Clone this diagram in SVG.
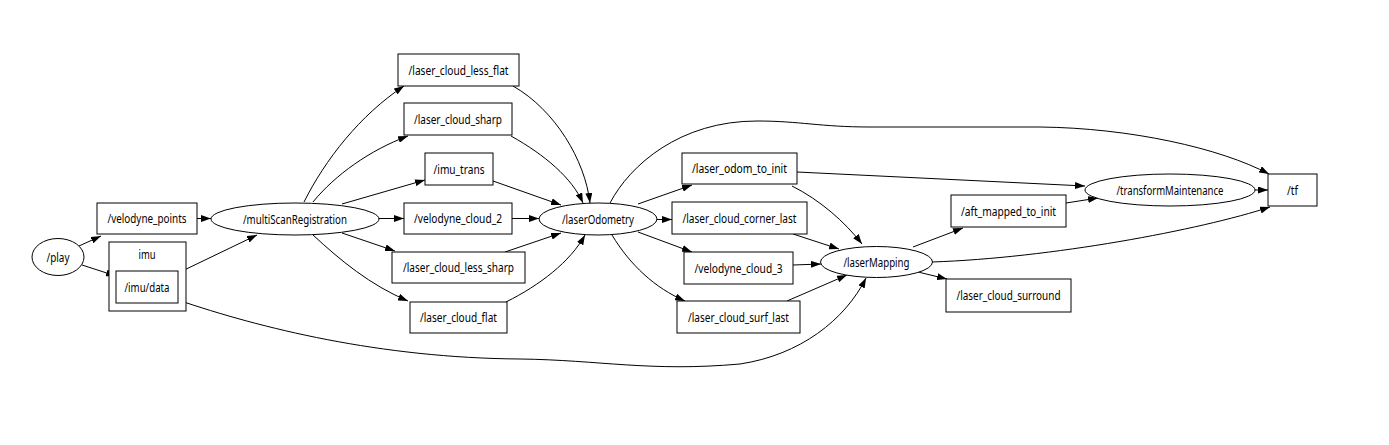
<svg xmlns="http://www.w3.org/2000/svg" width="1389" height="445" viewBox="0 0 1389 445">
<style>
  .n { fill: #ffffff; stroke: #000000; stroke-width: 1; }
  .t { font-family: "Noto Sans", "DejaVu Sans", sans-serif; font-size: 12.5px; text-anchor: middle; fill: #000000; }
  .e { fill: none; stroke: #000000; stroke-width: 1; marker-end: url(#arrow); }
</style>
<defs>
  <marker id="arrow" viewBox="0 0 10 7" refX="10" refY="3.5" markerWidth="10" markerHeight="7" markerUnits="userSpaceOnUse" orient="auto">
    <path d="M0,0 L10,3.5 L0,7 z" fill="#000000"/>
  </marker>
</defs>
<rect width="1389" height="445" fill="#ffffff"/>

<g id="connectors">
  <path class="e" d="M79,246 L101,236"/>
  <path class="e" d="M82,265 L116,276"/>
  <path class="e" d="M197,218.5 L211,218.5"/>
  <path class="e" d="M178,273 L257,235"/>
  <path class="e" d="M178,300 C 260,328 380,358 520,359 C 600,360 650,372 740,364 C 800,355 845,320 866,278"/>
  <path class="e" d="M304,202 C 325,160 360,115 404,86"/>
  <path class="e" d="M313,202 C 335,175 370,150 408,136"/>
  <path class="e" d="M342,204 L425,180"/>
  <path class="e" d="M378,218.5 L404,218.5"/>
  <path class="e" d="M342,233 L395,251"/>
  <path class="e" d="M313,235 C 340,260 370,285 408,301"/>
  <path class="e" d="M513,86 C 555,110 585,160 590,203"/>
  <path class="e" d="M511,136 C 545,155 572,178 583,203"/>
  <path class="e" d="M493,181 L561,205"/>
  <path class="e" d="M512,218.5 L539,218.5"/>
  <path class="e" d="M505,252 L561,233"/>
  <path class="e" d="M506,302 C 540,285 570,262 585,235"/>
  <path class="e" d="M610,203 C 630,165 680,121 757,121 C 800,121 820,127 870,127 L 1040,127 C 1130,128 1220,148 1269,174"/>
  <path class="e" d="M638,204 L692,185"/>
  <path class="e" d="M657,219.5 L672,219.5"/>
  <path class="e" d="M638,232 L692,252"/>
  <path class="e" d="M612,235 C 630,265 655,288 685,301"/>
  <path class="e" d="M792,186 C 820,200 845,222 862,244"/>
  <path class="e" d="M793,234 L839,249"/>
  <path class="e" d="M793,265 L821,264"/>
  <path class="e" d="M787,301 L847,275"/>
  <path class="e" d="M797,172 L1085,186"/>
  <path class="e" d="M913,247 L963,228"/>
  <path class="e" d="M918,272 L947,279"/>
  <path class="e" d="M932,262 C 1050,258 1200,230 1270,207"/>
  <path class="e" d="M1066,203 L1098,198"/>
  <path class="e" d="M1255,190 L1268,190"/>
</g>

<g id="play">
  <ellipse class="n" cx="58" cy="257" rx="26" ry="18.5"/>
  <text class="t" x="58" y="261.5" textLength="23" lengthAdjust="spacingAndGlyphs">/play</text>
</g>
<g id="velodyne_points">
  <rect class="n" x="97" y="203" width="100" height="31"/>
  <text class="t" x="147" y="223" textLength="79" lengthAdjust="spacingAndGlyphs">/velodyne_points</text>
</g>
<g id="imu">
  <rect class="n" x="109" y="242" width="77" height="69"/>
  <text class="t" x="147" y="258.5" textLength="17" lengthAdjust="spacingAndGlyphs">imu</text>
</g>
<g id="imu_data">
  <rect class="n" x="116" y="271" width="62" height="32"/>
  <text class="t" x="147" y="291.5" textLength="45" lengthAdjust="spacingAndGlyphs">/imu/data</text>
</g>
<g id="multiScanRegistration">
  <ellipse class="n" cx="295" cy="219" rx="84" ry="16"/>
  <text class="t" x="295" y="223.5" textLength="104" lengthAdjust="spacingAndGlyphs">/multiScanRegistration</text>
</g>
<g id="laser_cloud_less_flat">
  <rect class="n" x="398" y="54" width="121" height="32"/>
  <text class="t" x="458.5" y="74.5" textLength="100" lengthAdjust="spacingAndGlyphs">/laser_cloud_less_flat</text>
</g>
<g id="laser_cloud_sharp">
  <rect class="n" x="404" y="103" width="108" height="32"/>
  <text class="t" x="458" y="123.5" textLength="88" lengthAdjust="spacingAndGlyphs">/laser_cloud_sharp</text>
</g>
<g id="imu_trans">
  <rect class="n" x="425" y="153" width="68" height="32"/>
  <text class="t" x="459" y="173.5" textLength="51" lengthAdjust="spacingAndGlyphs">/imu_trans</text>
</g>
<g id="velodyne_cloud_2">
  <rect class="n" x="404" y="203" width="108" height="31"/>
  <text class="t" x="458" y="223" textLength="88" lengthAdjust="spacingAndGlyphs">/velodyne_cloud_2</text>
</g>
<g id="laser_cloud_less_sharp">
  <rect class="n" x="392" y="252" width="133" height="31"/>
  <text class="t" x="458.5" y="272" textLength="111" lengthAdjust="spacingAndGlyphs">/laser_cloud_less_sharp</text>
</g>
<g id="laser_cloud_flat">
  <rect class="n" x="410" y="302" width="97" height="31"/>
  <text class="t" x="458.5" y="322" textLength="77" lengthAdjust="spacingAndGlyphs">/laser_cloud_flat</text>
</g>
<g id="laserOdometry">
  <ellipse class="n" cx="598" cy="219" rx="59" ry="16"/>
  <text class="t" x="598" y="223.5" textLength="72" lengthAdjust="spacingAndGlyphs">/laserOdometry</text>
</g>
<g id="laser_odom_to_init">
  <rect class="n" x="682" y="153" width="115" height="31"/>
  <text class="t" x="739.5" y="173" textLength="95" lengthAdjust="spacingAndGlyphs">/laser_odom_to_init</text>
</g>
<g id="laser_cloud_corner_last">
  <rect class="n" x="672" y="202" width="135" height="32"/>
  <text class="t" x="739.5" y="222.5" textLength="114" lengthAdjust="spacingAndGlyphs">/laser_cloud_corner_last</text>
</g>
<g id="velodyne_cloud_3">
  <rect class="n" x="684" y="252" width="109" height="32"/>
  <text class="t" x="738.5" y="272.5" textLength="88" lengthAdjust="spacingAndGlyphs">/velodyne_cloud_3</text>
</g>
<g id="laser_cloud_surf_last">
  <rect class="n" x="677" y="301" width="123" height="32"/>
  <text class="t" x="738.5" y="321.5" textLength="101" lengthAdjust="spacingAndGlyphs">/laser_cloud_surf_last</text>
</g>
<g id="laserMapping">
  <ellipse class="n" cx="876.5" cy="262" rx="56" ry="15.5"/>
  <text class="t" x="876.5" y="266.5" textLength="66" lengthAdjust="spacingAndGlyphs">/laserMapping</text>
</g>
<g id="aft_mapped_to_init">
  <rect class="n" x="951" y="195" width="115" height="32"/>
  <text class="t" x="1008.5" y="215.5" textLength="95" lengthAdjust="spacingAndGlyphs">/aft_mapped_to_init</text>
</g>
<g id="laser_cloud_surround">
  <rect class="n" x="946" y="279" width="125" height="33"/>
  <text class="t" x="1008.5" y="300" textLength="104" lengthAdjust="spacingAndGlyphs">/laser_cloud_surround</text>
</g>
<g id="transformMaintenance">
  <ellipse class="n" cx="1170" cy="190" rx="85" ry="16"/>
  <text class="t" x="1170" y="194.5" textLength="107" lengthAdjust="spacingAndGlyphs">/transformMaintenance</text>
</g>
<g id="tf">
  <rect class="n" x="1268" y="174" width="49" height="32"/>
  <text class="t" x="1292.5" y="194.5" textLength="11" lengthAdjust="spacingAndGlyphs">/tf</text>
</g>
</svg>
